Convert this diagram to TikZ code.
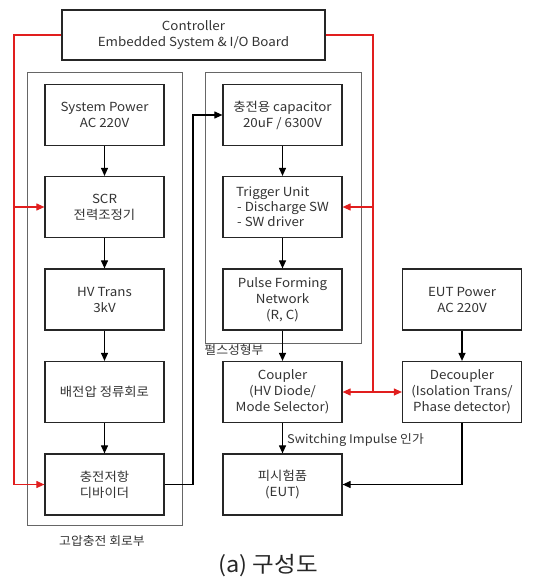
\documentclass[tikz,border=0pt]{standalone}
\usepackage{fontspec}
\setmainfont[FakeStretch=1.07]{Noto Sans CJK KR}
\usetikzlibrary{arrows.meta}
\definecolor{redline}{RGB}{225,30,30}
\tikzset{
  box/.style={draw=black!85, line width=1.2pt, minimum width=119pt, minimum height=61pt, align=center, inner sep=1pt, font=\fontsize{12.5}{16}\selectfont, text=black!80},
  grp/.style={draw=black!60, line width=0.9pt, minimum width=155pt, inner sep=0pt},
  arr/.style={line width=1.1pt, black, -{Triangle[length=8pt,width=7pt]}},
  rarr/.style={line width=1.1pt, redline, -{Triangle[length=8pt,width=7pt]}},
  rline/.style={line width=1.1pt, redline},
  lbl/.style={font=\fontsize{12}{14}\selectfont, text=black!80, inner sep=1pt}
}
\begin{document}
\begin{tikzpicture}[x=1pt,y=-1pt]
\useasboundingbox (0,0) rectangle (541,577);
% group boxes
\node[grp, minimum height=453pt] (g1) at (104.5,298.5) {};
\node[grp, minimum height=271pt, minimum width=156pt] (g2) at (283,207.5) {};
% controller
\node[box, minimum width=263pt, minimum height=50pt] (ctrl) at (193.5,35) {Controller\\Embedded System \& I/O Board};
% left column
\node[box] (sp) at (104.5,115) {System Power\\AC 220V};
\node[box] (scr) at (104.5,207) {SCR\\전력조정기};
\node[box] (hv) at (104.5,299.5) {HV Trans\\3kV};
\node[box] (vd) at (104.5,392) {배전압 정류회로};
\node[box] (chg) at (104.5,484.5) {충전저항\\디바이더};
% center column
\node[box] (cap) at (282.5,115) {충전용 capacitor\\20uF / 6300V};
\node[box, align=left] (trig) at (282.5,207) {Trigger Unit\\[-1pt]\hspace*{1pt}- Discharge SW\\[-1pt]\hspace*{1pt}- SW driver};
\node[box] (pfn) at (282.5,299.5) {Pulse Forming\\Network\\(R, C)};
\node[box] (coup) at (282.5,392) {Coupler\\(HV Diode/\\Mode Selector)};
\node[box] (eut) at (282.5,484.5) {피시험품\\(EUT)};
% right column
\node[box] (eutp) at (462,299.5) {EUT Power\\AC 220V};
\node[box] (dec) at (462,392) {Decoupler\\(Isolation Trans/\\Phase detector)};
% labels
\node[lbl] (lg1) at (102,541) {고압충전 회로부};
\node[lbl] (lg2) at (234,350) {펄스성형부};
\node[lbl, anchor=west] (lsw) at (286,440) {Switching Impulse 인가};
\node[font=\fontsize{22}{26}\selectfont, text=black!85] (cap2) at (268,566) {(a) 구성도};
% black arrows
\draw[arr] (sp) -- (scr);
\draw[arr] (scr) -- (hv);
\draw[arr] (hv) -- (vd);
\draw[arr] (vd) -- (chg);
\draw[arr] (cap) -- (trig);
\draw[arr] (trig) -- (pfn);
\draw[arr] (pfn) -- (coup);
\draw[arr] (coup) -- (eut);
\draw[arr] (eutp) -- (dec);
\coordinate (c1) at (193,484.5);
\coordinate (c2) at (193,115);
\draw[arr] (chg.east) -- (c1) -- (c2) -- (cap.west);
\coordinate (d1) at (462,484.5);
\draw[arr] (dec.south) -- (d1) -- (eut.east);
% red lines
\coordinate (rl0) at (14,35);
\coordinate (rl1) at (14,207);
\coordinate (rl2) at (14,484.5);
\draw[rline] (ctrl.west) -- (rl0) -- (rl2);
\draw[rarr] (rl1) -- (scr.west);
\draw[rarr] (rl2) -- (chg.west);
\coordinate (rr0) at (373,35);
\coordinate (rr1) at (373,207);
\coordinate (rr2) at (373,392);
\draw[rline] (ctrl.east) -- (rr0) -- (rr2);
\draw[rarr] (rr1) -- (trig.east);
\draw[rarr] (rr2) -- (coup.east);
\draw[rarr] (rr2) -- (dec.west);
\end{tikzpicture}
\end{document}
